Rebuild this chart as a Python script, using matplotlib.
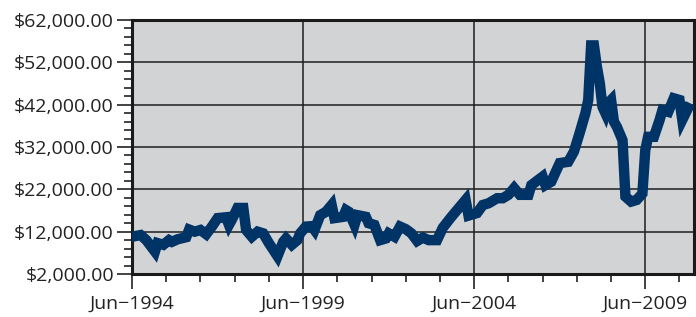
import matplotlib.pyplot as plt
import matplotlib.dates as mdates
import matplotlib.ticker as mticker
import pandas as pd

# monthly readings picked off the chart
months = [
    "1994-06", "1994-09", "1994-11", "1995-02", "1995-03", "1995-05", "1995-07",
    "1995-08", "1995-10", "1996-01", "1996-02", "1996-04", "1996-06", "1996-08",
    "1996-10", "1996-12", "1997-03", "1997-04", "1997-05", "1997-07", "1997-09",
    "1997-10", "1997-12", "1998-02", "1998-04", "1998-06", "1998-09", "1998-11",
    "1998-12", "1999-02", "1999-04", "1999-05", "1999-07", "1999-09", "1999-10",
    "1999-12", "2000-02", "2000-04", "2000-05", "2000-08", "2000-09", "2000-10",
    "2000-12", "2001-01", "2001-04", "2001-05", "2001-07", "2001-09", "2001-11",
    "2001-12", "2002-02", "2002-04", "2002-06", "2002-08", "2002-10", "2002-12",
    "2003-02", "2003-05", "2003-07", "2003-10", "2003-12", "2004-03", "2004-04",
    "2004-07", "2004-09", "2004-11", "2005-02", "2005-04", "2005-06", "2005-08",
    "2005-10", "2006-01", "2006-02", "2006-06", "2006-07", "2006-09", "2006-12",
    "2007-03", "2007-05", "2007-07", "2007-09", "2007-10", "2007-11", "2007-12",
    "2008-01", "2008-02", "2008-03", "2008-04", "2008-05", "2008-06", "2008-07",
    "2008-08", "2008-10", "2008-11", "2009-01", "2009-03", "2009-05", "2009-06",
    "2009-07", "2009-09", "2009-11", "2009-12", "2010-02", "2010-04", "2010-06",
    "2010-07", "2010-09",
]
values = [
    10800, 11200, 10000, 7300, 9300, 8900, 10000,
    9600, 10200, 10700, 12500, 12000, 12400, 11400,
    13200, 15200, 15400, 13600, 14800, 17600, 17600,
    12400, 10800, 12000, 11600, 9300, 6200, 9600,
    10400, 8900, 10000, 11600, 13200, 13300, 12400,
    15900, 16700, 18300, 15200, 15500, 17100, 16700,
    13600, 15900, 15500, 14000, 13600, 10000, 10400,
    11600, 10800, 13200, 12600, 11600, 9800, 10600,
    10000, 10000, 12900, 15500, 17100, 19500, 15800,
    16400, 18300, 18700, 19900, 19900, 20700, 22300,
    20700, 20700, 23000, 25000, 23000, 23800, 28200,
    28500, 30900, 35300, 40000, 43100, 56000, 56000,
    51000, 47100, 41500, 40000, 42400, 43100, 38000,
    36800, 33600, 20300, 19100, 19500, 21000, 31300,
    34400, 34400, 38400, 40700, 40300, 43500, 43100,
    38400, 41200,
]

major_dates = ["1994-06-01", "1999-06-01", "2004-06-01", "2009-06-01"]
minor_years = list(range(1994, 2011))
y_ticks = [2000, 12000, 22000, 32000, 42000, 52000, 62000]

dates = pd.to_datetime(months)

fig = plt.figure(figsize=(6.96, 3.17), dpi=100)
ax = fig.add_axes([132 / 696, 43 / 317, 562 / 696, 254 / 317])
ax.set_facecolor("#d2d3d5")

ax.plot(dates, values, color="#003366", lw=7.5, solid_joinstyle="miter", zorder=3)

ax.set_xlim(pd.Timestamp("1994-06-01"), pd.Timestamp("2010-11-03"))
ax.set_ylim(2000, 62000)

ax.set_xticks(mdates.date2num(pd.to_datetime(major_dates)))
ax.set_xticks(mdates.date2num(pd.to_datetime([f"{y}-06-01" for y in minor_years])), minor=True)
ax.xaxis.set_major_formatter(mdates.DateFormatter("%b\u2212%Y"))
ax.set_yticks(y_ticks)
ax.yaxis.set_minor_locator(mticker.MultipleLocator(2000))
ax.yaxis.set_major_formatter(mticker.StrMethodFormatter("${x:,.2f}"))

ax.grid(which="major", color="#1e1e1e", lw=1.1, zorder=1)
for s in ax.spines.values():
    s.set_linewidth(2.2)
    s.set_color("#1a1a1a")

ax.tick_params(which="major", length=11, width=1.2, color="#222222",
               labelsize=14, labelcolor="#222222")
ax.tick_params(which="minor", length=6, width=1.2, color="#222222")
ax.tick_params(axis="y", which="major", pad=2)
ax.tick_params(axis="x", which="major", pad=4)

for lab in ax.get_xticklabels() + ax.get_yticklabels():
    lab.set_fontfamily("Open Sans")

fig.savefig("out.png", dpi=100)
